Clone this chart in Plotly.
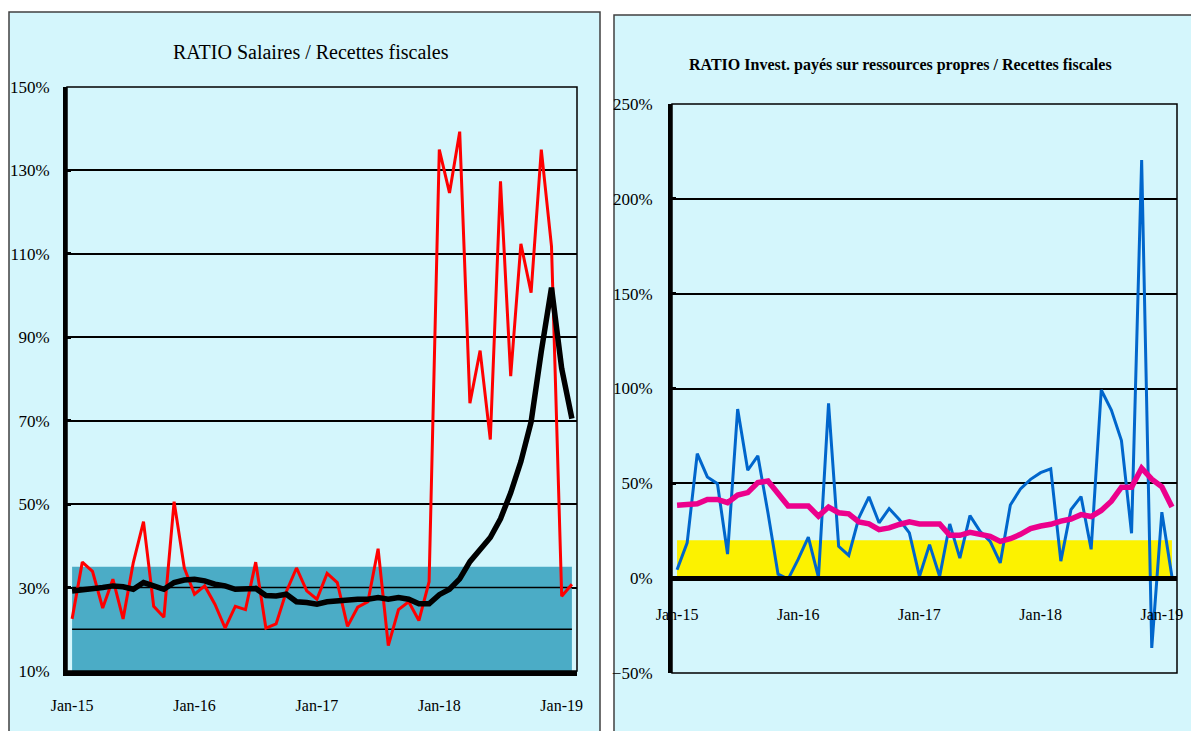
import pandas as pd
import plotly.graph_objects as go

# ---------------- data ----------------
months = list(pd.date_range("2015-01-01", periods=50, freq="MS").strftime("%b-%y"))
year_ticks = ["Jan-15", "Jan-16", "Jan-17", "Jan-18", "Jan-19"]

# RATIO Salaires / Recettes fiscales (%)
salaires_ratio = [22.5, 36.1, 33.9, 25.1, 32.0, 22.5, 36.0, 45.8, 25.5, 22.9,
                  50.6, 34.7, 28.4, 30.4, 26.0, 20.3, 25.5, 24.7, 36.1, 20.3,
                  21.3, 29.0, 34.7, 29.2, 27.2, 33.4, 31.2, 20.7, 25.3, 26.6,
                  39.3, 16.1, 24.7, 26.6, 22.1, 31.4, 135.0, 124.6, 139.3, 74.2,
                  86.8, 65.5, 127.4, 80.7, 112.4, 100.7, 135.0, 111.8, 27.9, 30.8]
salaires_trend = [29.2, 29.4, 29.6, 30.0, 30.4, 30.2, 29.6, 31.2, 30.4, 29.6,
                  31.2, 31.8, 32.0, 31.6, 30.8, 30.4, 29.6, 29.6, 29.8, 28.1,
                  28.0, 28.4, 26.6, 26.4, 26.0, 26.6, 26.9, 27.0, 27.2, 27.2,
                  27.6, 27.2, 27.6, 27.2, 26.1, 26.1, 28.3, 29.6, 32.1, 36.2,
                  39.1, 42.0, 46.5, 52.7, 60.2, 69.7, 86.6, 101.9, 82.5, 70.5]
salaires_zone_haut = 35
salaires_seuil_haut = 30
salaires_seuil_bas = 20

# RATIO Invest. payés sur ressources propres / Recettes fiscales (%)
invest_ratio = [4.4, 18.6, 65.7, 53.4, 49.8, 12.7, 89.2, 56.9, 64.5, 34.5,
                2.1, -0.5, 10.0, 21.6, 0.4, 92.2, 16.8, 12.0, 31.8, 42.9,
                29.2, 36.7, 30.9, 23.9, 0.9, 17.7, 0.9, 28.6, 10.6, 33.0,
                24.7, 19.4, 8.0, 38.6, 47.0, 52.1, 55.6, 57.6, 9.0, 36.1,
                43.0, 15.2, 99.2, 88.6, 72.6, 23.7, 220.4, -36.8, 34.8, 0.8]
invest_trend = [38.5, 39.2, 39.2, 41.5, 41.5, 39.8, 43.8, 45.1, 50.4, 51.2,
                45.1, 38.0, 38.0, 38.0, 32.7, 37.5, 34.5, 33.9, 29.7, 28.6,
                25.6, 26.5, 28.3, 29.7, 28.6, 28.6, 28.6, 22.6, 22.6, 24.2,
                23.3, 22.1, 19.4, 20.8, 23.1, 26.1, 27.5, 28.4, 30.1, 31.2,
                33.5, 32.5, 35.7, 40.6, 48.0, 48.0, 58.0, 52.2, 48.2, 37.5]
invest_zone_haut = 20

# ---------------- layout geometry ----------------
W, H = 1191, 731
FONT = "Liberation Serif"
n = len(months)
xr = [-0.5, n - 0.5]
boundaries = [i - 0.5 for i in range(12, n, 12)]

L_x = [67 / W, 577 / W]
L_y = [(H - 671) / H, (H - 87) / H]
R_x = [672 / W, 1177 / W]
R_y = [(H - 673) / H, (H - 104) / H]
R_zero = R_y[0] + (R_y[1] - R_y[0]) * (50 / 300)

fig = go.Figure()

# ----- left chart -----
fig.add_trace(go.Scatter(x=months, y=[salaires_zone_haut] * n, mode="lines",
                         line=dict(width=0), fill="tozeroy", fillcolor="#4BACC6",
                         xaxis="x", yaxis="y", hoverinfo="skip", showlegend=False))
for s in (salaires_seuil_haut, salaires_seuil_bas):
    fig.add_trace(go.Scatter(x=months, y=[s] * n, mode="lines",
                             line=dict(color="black", width=1.5),
                             xaxis="x", yaxis="y", hoverinfo="skip", showlegend=False))
fig.add_trace(go.Scatter(x=months, y=salaires_ratio, mode="lines",
                         line=dict(color="#FF0000", width=3),
                         xaxis="x", yaxis="y", showlegend=False))
fig.add_trace(go.Scatter(x=months, y=salaires_trend, mode="lines",
                         line=dict(color="black", width=5.5),
                         xaxis="x", yaxis="y", showlegend=False))

# ----- right chart -----
fig.add_trace(go.Scatter(x=months, y=[invest_zone_haut] * n, mode="lines",
                         line=dict(width=0), fill="tozeroy", fillcolor="#FCF200",
                         xaxis="x3", yaxis="y3", hoverinfo="skip", showlegend=False))
fig.add_trace(go.Scatter(x=months, y=invest_ratio, mode="lines",
                         line=dict(color="#0066CC", width=3),
                         xaxis="x3", yaxis="y3", showlegend=False))
fig.add_trace(go.Scatter(x=months, y=invest_trend, mode="lines",
                         line=dict(color="#EC008C", width=5.5),
                         xaxis="x3", yaxis="y3", showlegend=False))

tickfont_x = dict(family=FONT, size=16, color="black")
tickfont_y = dict(family=FONT, size=17, color="black")

fig.update_layout(
    template="none",
    width=W, height=H, margin=dict(l=0, r=0, t=0, b=0, pad=0, autoexpand=False),
    paper_bgcolor="white", plot_bgcolor="white",
    xaxis=dict(domain=L_x, type="category", range=xr, anchor="y", automargin=False,
               tickmode="array", tickvals=year_ticks, ticktext=year_ticks,
               ticks="", showgrid=False, zeroline=False,
               showline=True, linecolor="black", linewidth=5,
               tickfont=tickfont_x, ticklabelstandoff=16),
    xaxis2=dict(overlaying="x", type="linear", range=xr, anchor="y", side="bottom",
                automargin=False,
                tickmode="array", tickvals=boundaries, showticklabels=False,
                ticks="inside", ticklen=5, tickwidth=3, tickcolor="black",
                showgrid=True, gridcolor="black", gridwidth=1.2,
                zeroline=False, showline=False),
    yaxis=dict(domain=L_y, range=[10, 150], tick0=10, dtick=20, ticksuffix="%",
               anchor="x", automargin=False,
               showgrid=True, gridcolor="black", gridwidth=1.5,
               zeroline=False, showline=True, linecolor="black", linewidth=4,
               ticks="inside", ticklen=4, tickwidth=3, tickcolor="black",
               tickfont=tickfont_y, ticklabelstandoff=10),
    xaxis3=dict(domain=R_x, type="category", range=xr, anchor="free", position=R_zero,
                automargin=False,
                tickmode="array", tickvals=year_ticks, ticktext=year_ticks,
                ticks="", showgrid=False, zeroline=False,
                showline=True, linecolor="black", linewidth=5,
                tickfont=tickfont_x, ticklabelstandoff=20),
    xaxis4=dict(overlaying="x3", type="linear", range=xr, anchor="free", position=R_zero,
                side="bottom", automargin=False,
                tickmode="array", tickvals=boundaries, showticklabels=False,
                ticks="inside", ticklen=5, tickwidth=3, tickcolor="black",
                showgrid=True, gridcolor="black", gridwidth=1.2,
                zeroline=False, showline=False),
    yaxis3=dict(domain=R_y, range=[-50, 250], tick0=0, dtick=50, ticksuffix="%",
                anchor="x3", automargin=False,
                showgrid=True, gridcolor="black", gridwidth=1.5,
                zeroline=False, showline=True, linecolor="black", linewidth=4,
                ticks="inside", ticklen=4, tickwidth=3, tickcolor="black",
                tickfont=tickfont_y, ticklabelstandoff=12),
    shapes=[
        dict(type="rect", xref="paper", yref="paper", x0=9 / W, x1=600 / W,
             y0=-0.02, y1=(H - 12) / H, fillcolor="#D4F6FC",
             line=dict(color="#404040", width=1.5), layer="below"),
        dict(type="rect", xref="paper", yref="paper", x0=614 / W, x1=1.02,
             y0=-0.02, y1=(H - 15) / H, fillcolor="#D4F6FC",
             line=dict(color="#404040", width=1.5), layer="below"),
        dict(type="rect", xref="x domain", yref="y domain", x0=0, x1=1, y0=0, y1=1,
             line=dict(color="black", width=1.5), layer="above"),
        dict(type="rect", xref="x3 domain", yref="y3 domain", x0=0, x1=1, y0=0, y1=1,
             line=dict(color="black", width=1.5), layer="above"),
    ],
    annotations=[
        dict(text="RATIO Salaires / Recettes fiscales", xref="paper", yref="paper",
             x=311 / W, y=(H - 52) / H, xanchor="center", yanchor="middle",
             showarrow=False, font=dict(family=FONT, size=20, color="black")),
        dict(text="<b>RATIO Invest. payés sur ressources propres / Recettes fiscales</b>",
             xref="paper", yref="paper", x=900 / W, y=(H - 65) / H,
             xanchor="center", yanchor="middle", showarrow=False,
             font=dict(family=FONT, size=16, color="black")),
    ],
)

fig.write_html("out.html", config={"displayModeBar": False},
               post_script="document.body.style.margin='0';document.body.style.overflow='hidden';")
